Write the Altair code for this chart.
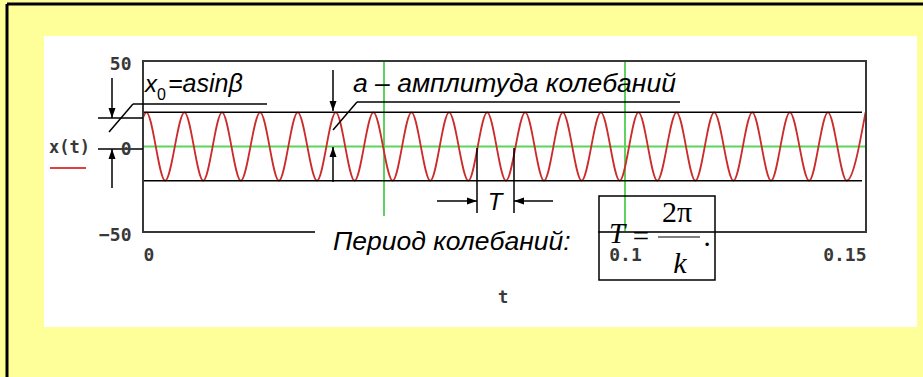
import altair as alt
import pandas as pd

# x(t) = a·sin(kt + β): the curve's extremes along t
amplitude = 20
x_start = 16.8  # x0 = a·sinβ at t = 0
peak_t = [0.0007, 0.0086, 0.0164, 0.0243, 0.0321, 0.0400, 0.0478, 0.0557, 0.0635, 0.0714,
          0.0793, 0.0871, 0.0950, 0.1028, 0.1107, 0.1185, 0.1264, 0.1342, 0.1421, 0.1499]
trough_t = [0.0046, 0.0125, 0.0203, 0.0282, 0.0361, 0.0439, 0.0518, 0.0596, 0.0675, 0.0753,
            0.0832, 0.0910, 0.0989, 0.1067, 0.1146, 0.1225, 0.1303, 0.1382, 0.1460]
marker_t = [0.05, 0.1]
x_ticks = [0, 0.1, 0.15]
y_ticks = [-50, 0, 50]
t_range = [0, 0.15]
x_range = [-50, 50]

wave_df = pd.DataFrame(
    [{"t": 0.0, "x": x_start}]
    + [{"t": t, "x": amplitude} for t in peak_t]
    + [{"t": t, "x": -amplitude} for t in trough_t]
).sort_values("t")
markers_df = pd.DataFrame({"t": marker_t})
levels_df = pd.DataFrame({"x": [amplitude, -amplitude]})
zero_df = pd.DataFrame({"x": [0]})
one = pd.DataFrame({"k": [0]})

# page layout (pixels)
PAD_L, PAD_T, W, H = 143, 61, 723, 171
PAGE_W, PAGE_H = 923, 377
MONO = "DejaVu Sans Mono"
SANS = "Liberation Sans"
SERIF = "Liberation Serif"
RED = "#CC2B2B"
GREEN = "#5FD35F"
INK = "#383838"

x_scale = alt.Scale(domain=t_range, nice=False, zero=False)
y_scale = alt.Scale(domain=x_range, nice=False)
tick_text = "format(datum.value, '.6~g')"
x_axis = alt.Axis(values=x_ticks, labelExpr=tick_text, title=None, domain=False, ticks=False,
                  grid=False, labelFlush=True, labelPadding=14, labelFont=MONO,
                  labelFontSize=18, labelFontWeight="bold", labelColor=INK, zindex=1)
y_axis = alt.Axis(values=y_ticks, labelExpr=tick_text, title=None, domain=False, ticks=False,
                  grid=False, labelPadding=12, labelFont=MONO, labelFontSize=18,
                  labelFontWeight="bold", labelColor=INK, labelOffset=3,
                  labelBaseline="middle", zindex=1)
X = alt.X("t:Q", scale=x_scale, axis=x_axis)
Y = alt.Y("x:Q", scale=y_scale, axis=y_axis)


def px(x):
    return x - PAD_L


def py(y):
    return y - PAD_T


def seg(x1, y1, x2, y2, color="black", width=1.5):
    return alt.Chart(one).mark_rule(color=color, strokeWidth=width).encode(
        x=alt.value(px(x1)), y=alt.value(py(y1)),
        x2=alt.value(px(x2)), y2=alt.value(py(y2)))


HEADS = {
    "down": "M0,0L-0.7,-2L0.7,-2Z",
    "up": "M0,0L-0.7,2L0.7,2Z",
    "right": "M0,0L-2,-0.7L-2,0.7Z",
    "left": "M0,0L2,-0.7L2,0.7Z",
}


def head(x, y, d):
    return alt.Chart(one).mark_point(
        shape=HEADS[d], filled=True, color="black", size=100, opacity=1, strokeWidth=0
    ).encode(x=alt.value(px(x)), y=alt.value(py(y)))


def arrow(x1, y1, x2, y2, d):
    return [seg(x1, y1, x2, y2), head(x2, y2, d)]


def label(text, x, y, size, font=SANS, style="italic", align="left",
          baseline="alphabetic", color="black", weight="normal"):
    return alt.Chart(one).mark_text(
        text=text, font=font, fontSize=size, fontStyle=style, fontWeight=weight,
        align=align, baseline=baseline, color=color
    ).encode(x=alt.value(px(x)), y=alt.value(py(y)))


def box(x1, y1, x2, y2, **kw):
    return alt.Chart(one).mark_rect(**kw).encode(
        x=alt.value(px(x1)), x2=alt.value(px(x2)),
        y=alt.value(py(y1)), y2=alt.value(py(y2)))


layers = []

# white sheet and the black frame edges
layers.append(box(44, 36, 917, 327, color="white"))
layers.append(seg(7, 4, PAGE_W, 4, width=3))
layers.append(seg(7, 4, 7, PAGE_H, width=3))

# green markers
layers.append(alt.Chart(markers_df).mark_rule(color=GREEN, strokeWidth=2).encode(
    x=X, y=alt.value(0), y2=alt.value(H)))
layers.append(alt.Chart(zero_df).mark_rule(color=GREEN, strokeWidth=2).encode(
    y=Y, x=alt.value(0), x2=alt.value(W)))

# the oscillation
layers.append(alt.Chart(wave_df).mark_line(
    color=RED, strokeWidth=1.8, interpolate="monotone").encode(x=X, y=Y))

# amplitude levels ±a
layers.append(alt.Chart(levels_df).mark_rule(color="black", strokeWidth=1.5).encode(
    y=Y, x=alt.value(0), x2=alt.value(W - 4)))

# plot frame
layers.append(alt.Chart(one).mark_rect(fillOpacity=0, stroke=INK, strokeWidth=2).encode(
    x=alt.value(0), x2=alt.value(W), y=alt.value(0), y2=alt.value(H)))

# axis titles
layers.append(label("x(t)", 49, 148, 17, font=MONO, style="normal", baseline="middle",
                    color=INK, weight="bold"))
layers.append(seg(50, 168, 86, 168, color="#E04040", width=2))
layers.append(label("t", 503, 298, 17, font=MONO, style="normal", align="center",
                    baseline="middle", color=INK, weight="bold"))

# x0 = a·sinβ
layers += arrow(112, 78, 112, 118, "down")
layers += arrow(112, 188, 112, 149, "up")
layers.append(seg(98, 118, 143, 118))
layers.append(seg(98, 149, 143, 149))
layers.append(seg(133, 104, 109, 132))
layers.append(seg(133, 104, 267, 104))
layers.append(label("x", 145, 92, 24))
layers.append(label("0", 157, 100, 16, style="normal"))
layers.append(label("=asinβ", 168, 92, 25))

# amplitude
layers += arrow(333, 70, 333, 111, "down")
layers += arrow(333, 182, 333, 147, "up")
layers.append(seg(357, 102, 333, 130))
layers.append(seg(357, 102, 680, 102))
layers.append(label("a – амплитуда колебаний", 353, 92, 26.5))

# period T
layers.append(seg(477, 148, 477, 213))
layers.append(seg(514, 148, 514, 213))
layers += arrow(437, 201, 477, 201, "right")
layers += arrow(553, 201, 514, 201, "left")
layers.append(label("T", 495, 210, 24, align="center"))

# period caption and formula
layers.append(box(315, 216, 598, 275, color="white"))
layers.append(label("Период колебаний:", 333, 250, 26.5))
layers.append(box(599, 196, 715, 280, fillOpacity=0, stroke="black", strokeWidth=1.5))
layers.append(label("T", 617, 243, 29, font=SERIF, align="center"))
layers.append(label("=", 641, 246, 29, font=SERIF, style="normal", align="center"))
layers.append(label("2π", 677, 222, 30, font=SERIF, style="normal", align="center"))
layers.append(seg(658, 237, 700, 237, width=1.2))
layers.append(label("k", 680, 273, 30, font=SERIF, align="center"))
layers.append(label(".", 707, 246, 29, font=SERIF, style="normal", align="center"))

chart = alt.layer(*layers).properties(
    width=W, height=H,
    padding={"left": PAD_L, "top": PAD_T, "right": PAGE_W - PAD_L - W, "bottom": PAGE_H - PAD_T - H},
    autosize=alt.AutoSizeParams(type="none"),
    background="#FFFF99",
).configure_view(stroke=None)

chart.save("out.html", embed_options={"renderer": "svg", "actions": False})
